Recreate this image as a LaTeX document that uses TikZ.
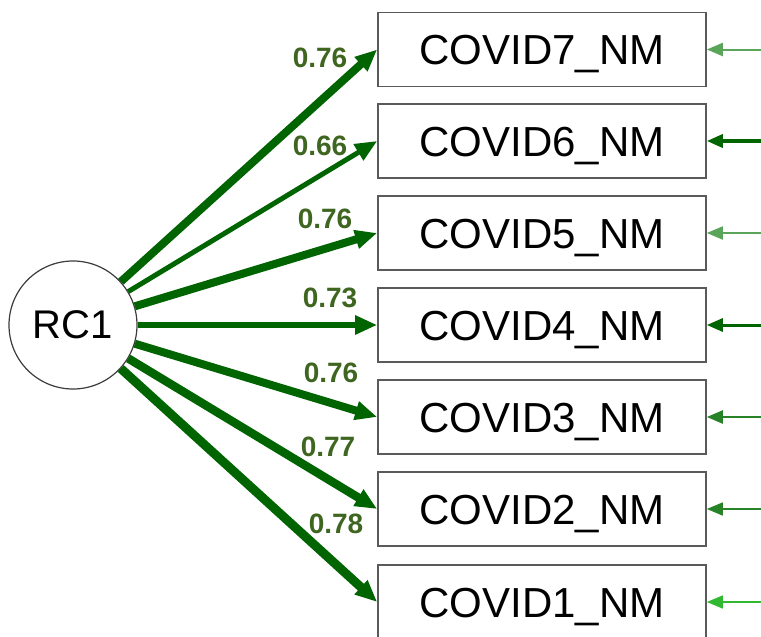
\documentclass[tikz,border=0pt]{standalone}
\usepackage{fontspec}
\setmainfont{Liberation Sans}
\usetikzlibrary{arrows.meta}
\definecolor{load}{RGB}{0,100,0}
\definecolor{lab}{RGB}{62,102,32}
\definecolor{errlight}{RGB}{90,165,90}
\definecolor{errdark}{RGB}{0,100,0}
\definecolor{errmid}{RGB}{40,130,40}
\definecolor{errbright}{RGB}{50,185,50}
\tikzset{
  varbox/.style={draw={rgb,255:red,90;green,90;blue,90}, line width=1.6pt, fill=white,
    minimum width=328pt, minimum height=74pt, inner sep=0pt, text height=30pt, text depth=0pt,
    font=\fontsize{42}{42}\selectfont},
  latent/.style={circle, draw={rgb,255:red,60;green,60;blue,60}, line width=1.2pt, fill=white,
    minimum size=128pt, inner sep=0pt, font=\fontsize{40}{40}\selectfont},
  loading/.style={draw=load, -{Triangle[length=22pt,width=18pt]}},
  errarrow/.style={-{Triangle[length=16pt,width=13pt]}},
  lbl/.style={text=lab, font=\bfseries\fontsize{28}{28}\selectfont, inner sep=0pt}
}
\begin{document}
\begin{tikzpicture}[x=1pt,y=-1pt]
\useasboundingbox (0,0) rectangle (761,637);
\node[latent] (rc) at (73,325) {RC1};
\node[varbox] (b7) at (542,49.5) {COVID7\_NM};
\node[varbox] (b6) at (542,141) {COVID6\_NM};
\node[varbox] (b5) at (542,233) {COVID5\_NM};
\node[varbox] (b4) at (542,325) {COVID4\_NM};
\node[varbox] (b3) at (542,417) {COVID3\_NM};
\node[varbox] (b2) at (542,509) {COVID2\_NM};
\node[varbox] (b1) at (542,602) {COVID1\_NM};

\draw[loading, line width=8pt] (rc) -- (b7.west);
\draw[loading, line width=5pt] (rc) -- (b6.west);
\draw[loading, line width=8pt] (rc) -- (b5.west);
\draw[loading, line width=6.5pt] (rc) -- (b4.west);
\draw[loading, line width=8pt] (rc) -- (b3.west);
\draw[loading, line width=8.5pt] (rc) -- (b2.west);
\draw[loading, line width=9pt] (rc) -- (b1.west);

\coordinate (e7) at (761,49.5);
\coordinate (e6) at (761,141);
\coordinate (e5) at (761,233);
\coordinate (e4) at (761,325);
\coordinate (e3) at (761,417);
\coordinate (e2) at (761,509);
\coordinate (e1) at (761,602);
\draw[errarrow, draw=errlight, fill=errdark, line width=2pt] (e7) -- (b7.east);
\draw[errarrow, draw=errdark, fill=errdark, line width=3.5pt] (e6) -- (b6.east);
\draw[errarrow, draw=errlight, fill=errdark, line width=1.8pt] (e5) -- (b5.east);
\draw[errarrow, draw=errdark, fill=errdark, line width=3pt] (e4) -- (b4.east);
\draw[errarrow, draw=errmid, fill=errdark, line width=2.2pt] (e3) -- (b3.east);
\draw[errarrow, draw=errmid, fill=errdark, line width=1.6pt] (e2) -- (b2.east);
\draw[errarrow, draw=errbright, fill=errbright, line width=1.4pt] (e1) -- (b1.east);

\node[lbl] (l7) at (320,58) {0.76};
\node[lbl] (l6) at (320,146) {0.66};
\node[lbl] (l5) at (325,219) {0.76};
\node[lbl] (l4) at (330,298) {0.73};
\node[lbl] (l3) at (331,373) {0.76};
\node[lbl] (l2) at (328,447) {0.77};
\node[lbl] (l1) at (336,524) {0.78};
\end{tikzpicture}
\end{document}
